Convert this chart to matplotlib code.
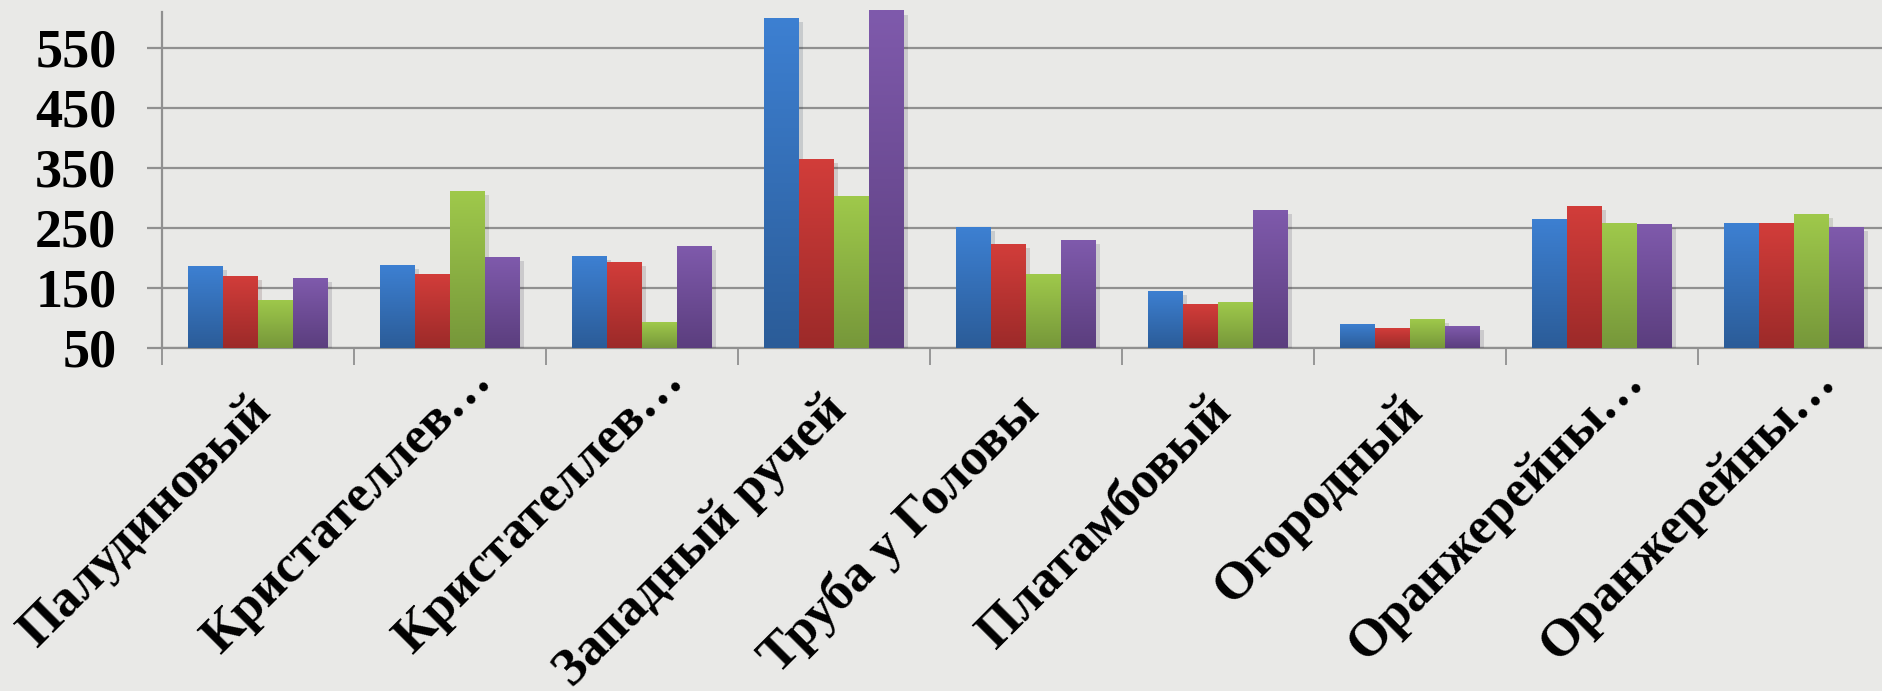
import numpy as np
import matplotlib
matplotlib.use('Agg')
import matplotlib.pyplot as plt
import matplotlib.patheffects as pe
import matplotlib.transforms as mtransforms
from matplotlib.colors import LinearSegmentedColormap

# data
categories = ['Палудиновый', 'Кристателлев…', 'Кристателлев…', 'Западный ручей',
              'Труба у Головы', 'Платамбовый', 'Огородный', 'Оранжерейны…', 'Оранжерейны…']
blue = [186, 188, 203, 600, 251, 145, 90, 265, 258]
red = [170, 173, 193, 365, 223, 123, 83, 286, 258]
green = [130, 311, 93, 303, 173, 126, 98, 258, 273]
purple = [166, 201, 220, 612, 229, 280, 86, 256, 251]
series = [blue, red, green, purple]
yticks = [50, 150, 250, 350, 450, 550]

# (top colour, bottom colour) for each series
shades = [('#3d80d2', '#2b5c98'),
          ('#d23d3a', '#9c2a29'),
          ('#9fc94b', '#76973a'),
          ('#7f5aac', '#5b3e7e')]

bg = '#e9e9e7'
grid_c = '#909090'

fig = plt.figure(figsize=(18.82, 6.91), dpi=100, facecolor=bg)
ax = fig.add_axes([0.0862, 0.4968, 0.918, 0.4863])
ax.set_facecolor(bg)

n = len(categories)
x = np.arange(n)
w = 1 / 5.5
offsets = (np.arange(4) - 1.5) * w

grad = np.linspace(0, 1, 256).reshape(-1, 1)
for vals, off, (top, bot) in zip(series, offsets, shades):
    cmap = LinearSegmentedColormap.from_list('g', [bot, top])
    bars = ax.bar(x + off, vals, width=w, bottom=0, color=top, zorder=3,
                  path_effects=[pe.SimplePatchShadow(offset=(3, -3), alpha=0.15), pe.Normal()])
    for b in bars:
        x0, x1 = b.get_x(), b.get_x() + b.get_width()
        im = ax.imshow(grad, cmap=cmap, origin='lower', aspect='auto',
                       extent=(x0, x1, 50, b.get_height()), zorder=4)
        im.set_clip_path(b)

ax.set_xlim(-0.5, n - 0.5)
ax.set_ylim(50, 610)

ax.set_yticks(yticks)
ax.set_yticklabels([str(v) for v in yticks])
ax.yaxis.grid(True, color=grid_c, linewidth=1.6, zorder=1)
ax.set_axisbelow(True)

ax.set_xticks(x)
ax.set_xticklabels(categories)
ax.set_xticks(np.arange(n + 1) - 0.5, minor=True)
ax.tick_params(axis='x', which='major', length=0, pad=40)
ax.tick_params(axis='x', which='minor', length=12, width=1.3, color=grid_c, direction='out')
ax.tick_params(axis='y', length=11, width=1.6, color=grid_c, pad=22)

for lab in ax.get_yticklabels():
    lab.set_fontfamily('Liberation Serif')
    lab.set_fontweight('bold')
    lab.set_fontsize(39)

for lab in ax.get_xticklabels():
    lab.set_fontfamily('Liberation Serif')
    lab.set_fontweight('bold')
    lab.set_fontsize(38)
    lab.set_rotation(45)
    lab.set_rotation_mode('anchor')
    lab.set_ha('right')
    lab.set_va('center')
    # truncated labels sit a bit further up the diagonal in the original
    dx = 0.34 if lab.get_text().endswith('…') else 0.05
    dy = 0.30 if lab.get_text().endswith('…') else 0.0
    shift = mtransforms.ScaledTranslation(dx, dy, fig.dpi_scale_trans)
    lab.set_transform(lab.get_transform() + shift)

for s in ['top', 'right']:
    ax.spines[s].set_visible(False)
for s in ['left', 'bottom']:
    ax.spines[s].set_color(grid_c)
    ax.spines[s].set_linewidth(1.6)

fig.savefig('out.png', dpi=100, facecolor=bg)
